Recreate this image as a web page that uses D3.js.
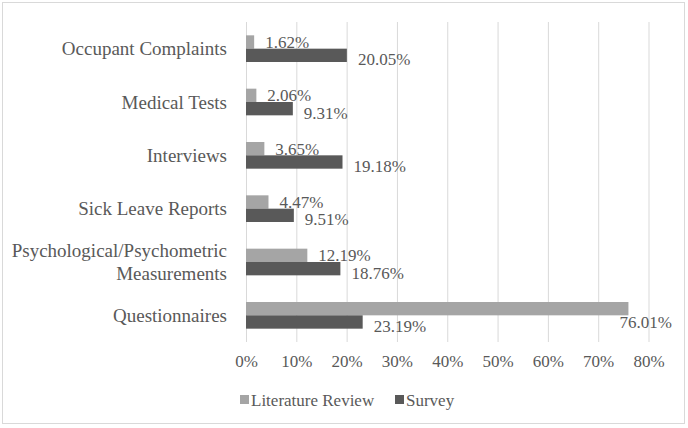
<!DOCTYPE html>
<html>
<head>
<meta charset="utf-8">
<script src="https://cdn.jsdelivr.net/npm/d3@7"></script>
<style>
  html, body { margin: 0; padding: 0; background: #fff; }
  svg { display: block; }
</style>
</head>
<body>
<svg id="chart" width="688" height="428"></svg>
<script>
const categories = ["Occupant Complaints", "Medical Tests", "Interviews", "Sick Leave Reports", "Psychological/Psychometric Measurements", "Questionnaires"];
const categoryLines = [["Occupant Complaints"], ["Medical Tests"], ["Interviews"], ["Sick Leave Reports"], ["Psychological/Psychometric", "Measurements"], ["Questionnaires"]];
const seriesNames = ["Literature Review", "Survey"];
const literatureReview = [1.62, 2.06, 3.65, 4.47, 12.19, 76.01];
const survey = [20.05, 9.31, 19.18, 9.51, 18.76, 23.19];
const tickValues = [0, 10, 20, 30, 40, 50, 60, 70, 80];
const colors = ["#a5a5a5", "#595959"];

const FONT = "'Liberation Serif'";
const TXT = "#595959";
const svg = d3.select("#chart");

// chart border
svg.append("rect").attr("x", 2.5).attr("y", 2.5).attr("width", 682).attr("height", 421)
  .attr("fill", "#fff").attr("stroke", "#d9d9d9").attr("stroke-width", 1);

const plot = { left: 246, right: 648.5, top: 22, bottom: 342 };
const x = d3.scaleLinear().domain([0, 80]).range([plot.left, plot.right]);
const y = d3.scaleBand().domain(categories).range([plot.top, plot.bottom]).paddingInner(0);
const groupH = y.bandwidth() * 0.5;
const inner = d3.scaleBand().domain(seriesNames).range([0, groupH]);

// gridlines + tick labels
const gx = svg.append("g").attr("transform", `translate(0,${plot.bottom})`)
  .call(d3.axisBottom(x).tickValues(tickValues).tickFormat(d => d + "%")
    .tickSize(-(plot.bottom - plot.top)).tickPadding(13));
gx.select(".domain").remove();
gx.selectAll(".tick line").attr("stroke", "#d9d9d9").attr("stroke-width", 1);
gx.selectAll(".tick text").style("font-family", FONT).style("font-size", "17px").attr("fill", TXT);

// category labels
categories.forEach((c, i) => {
  const lines = categoryLines[i];
  const cy = y(c) + y.bandwidth() / 2;
  const lh = 23;
  const t = svg.append("text").attr("text-anchor", "end")
    .style("font-family", FONT).style("font-size", "19px").attr("fill", TXT);
  lines.forEach((ln, j) => {
    t.append("tspan").attr("x", 227)
      .attr("y", cy - (lines.length - 1) * lh / 2 + j * lh)
      .attr("dy", "0.35em").text(ln);
  });
});

// bars
const data = categories.map((c, i) => ({ c, vals: [literatureReview[i], survey[i]] }));
const groups = svg.append("g").selectAll("g").data(data).join("g")
  .attr("transform", d => `translate(0,${y(d.c) + (y.bandwidth() - groupH) / 2})`);

groups.selectAll("rect").data(d => d.vals.map((v, k) => ({ v, k })))
  .join("rect")
  .attr("x", x(0))
  .attr("y", d => inner(seriesNames[d.k]))
  .attr("width", d => x(d.v) - x(0))
  .attr("height", inner.bandwidth())
  .attr("fill", d => colors[d.k]);

// value labels
const labelRight = 672;
groups.each(function (d) {
  const g = d3.select(this);
  d.vals.forEach((v, k) => {
    const barMid = inner(seriesNames[k]) + inner.bandwidth() / 2;
    const t = g.append("text").style("font-family", FONT).style("font-size", "17px")
      .attr("fill", TXT).text(v.toFixed(2) + "%");
    const w = t.node().getComputedTextLength();
    let lx = x(v) + 11;
    let ly = k === 0 ? barMid : barMid + 4;
    if (lx + w > labelRight) {
      lx = labelRight - w;
      ly = barMid + inner.bandwidth();
    }
    t.attr("x", lx).attr("y", ly).attr("dy", "0.35em");
  });
});

// legend
const legend = svg.append("g").attr("transform", "translate(0,400)");
const legendX = [240, 395];
seriesNames.forEach((s, k) => {
  legend.append("rect").attr("x", legendX[k]).attr("y", -5).attr("width", 9).attr("height", 9).attr("fill", colors[k]);
  legend.append("text").attr("x", legendX[k] + 11).attr("y", 0).attr("dy", "0.35em")
    .style("font-family", FONT).style("font-size", "17px").attr("fill", TXT).text(s);
});
</script>
</body>
</html>
